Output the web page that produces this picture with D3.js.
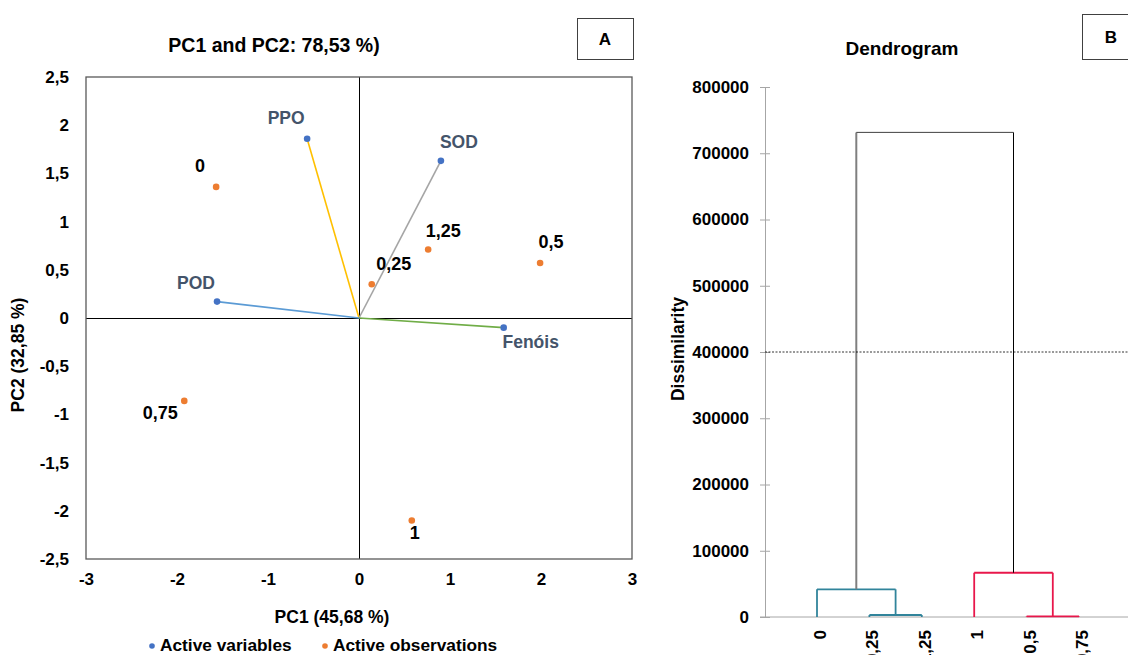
<!DOCTYPE html>
<html>
<head>
<meta charset="utf-8">
<script src="https://cdn.jsdelivr.net/npm/d3@7"></script>
<style>
  body { margin: 0; background: #fff; }
  text { font-family: "Liberation Sans", Arial, sans-serif; font-weight: bold; }
</style>
</head>
<body>
<div class="board"></div>
<script>
// PCA biplot data (panel A)
var varNames = ["PPO", "SOD", "POD", "Fenóis"]
var varPC1 = [-0.57, 0.90, -1.56, 1.59]
var varPC2 = [1.86, 1.63, 0.17, -0.10]

var obsNames = ["0", "0,25", "1,25", "0,5", "0,75", "1"]
var obsPC1 = [-1.57, 0.14, 0.76, 1.99, -1.92, 0.58]
var obsPC2 = [1.36, 0.35, 0.71, 0.57, -0.86, -2.10]

var pcTicksX = [-3, -2, -1, 0, 1, 2, 3]
var pcTicksY = [-2.5, -2, -1.5, -1, -0.5, 0, 0.5, 1, 1.5, 2, 2.5]

// Dendrogram data (panel B)
var leaves = ["0", "0,25", "1,25", "1", "0,5", "0,75"]
// merges: left child, right child, height (children: leaf name or merge index "m#")
var mergeLeft = ["0,25", "0", "0,5", "1", "m1"]
var mergeRight = ["1,25", "m0", "0,75", "m2", "m3"]
var mergeHeight = [3000, 41800, 800, 66800, 731500]
var dissTicks = [0, 100000, 200000, 300000, 400000, 500000, 600000, 700000, 800000]
var truncation = 400000

// styles
VAR_LINE_COLORS = ["#FFC000", "#A5A5A5", "#5B9BD5", "#70AD47"]
VAR_DOT = "#4472C4"
OBS_DOT = "#ED7D31"
VAR_LABEL = "#44546A"
BLUE_CLUSTER = "#31849B"
RED_CLUSTER = "#E8174B"
// label offsets relative to points (layout only)
var varLabelOff = [[-21, -15], [18, -13], [-21, -13], [27, 20]]
var obsLabelOff = [[-16, -15], [22, -14], [15, -13], [11, -15], [-24, 18], [3, 19]]

var W = 1128, H = 655
var svg = d3.select(".board").append("svg")
    .attr("width", W)
    .attr("height", H)

// ---------- Panel A ----------
var x = d3.scaleLinear().domain([-3, 3]).range([86, 632])
var y = d3.scaleLinear().domain([-2.5, 2.5]).range([559, 77])
var fmt = d => String(d).replace(".", ",")

svg.append("text")
    .attr("x", 274).attr("y", 52)
    .attr("text-anchor", "middle")
    .style("font-size", "19.5px")
    .text("PC1 and PC2: 78,53 %)")

svg.append("rect")
    .attr("x", 577.5).attr("y", 18.5).attr("width", 56).attr("height", 41)
    .attr("fill", "none").attr("stroke", "#404040")
svg.append("text")
    .attr("x", 605).attr("y", 45).attr("text-anchor", "middle")
    .style("font-size", "17px").text("A")

svg.append("g")
    .attr("transform", `translate(0, ${y(-2.5) + 11})`)
    .call(d3.axisBottom(x).tickValues(pcTicksX).tickSize(0).tickFormat(fmt))
    .call(g => g.select(".domain").remove())
    .selectAll("text")
    .style("font-size", "17px").attr("fill", "#000")

svg.append("g")
    .attr("transform", `translate(${x(-3) - 14}, 0)`)
    .call(d3.axisLeft(y).tickValues(pcTicksY).tickSize(0).tickFormat(fmt))
    .call(g => g.select(".domain").remove())
    .selectAll("text")
    .style("font-size", "17px").attr("fill", "#000")

// zero lines
svg.append("line")
    .attr("x1", x(-3)).attr("x2", x(3)).attr("y1", y(0)).attr("y2", y(0))
    .attr("stroke", "#000").attr("stroke-width", 1)
    .attr("shape-rendering", "crispEdges")
svg.append("line")
    .attr("x1", x(0)).attr("x2", x(0)).attr("y1", y(2.5)).attr("y2", y(-2.5))
    .attr("stroke", "#000").attr("stroke-width", 1)
    .attr("shape-rendering", "crispEdges")

svg.append("rect")
    .attr("x", x(-3)).attr("y", y(2.5))
    .attr("width", x(3) - x(-3)).attr("height", y(-2.5) - y(2.5))
    .attr("fill", "none").attr("stroke", "#595959").attr("stroke-width", 1.3)

svg.selectAll(".varLine")
    .data(varNames)
    .enter()
    .append("line")
    .classed("varLine", true)
    .attr("x1", x(0)).attr("y1", y(0))
    .attr("x2", (d, i) => x(varPC1[i]))
    .attr("y2", (d, i) => y(varPC2[i]))
    .attr("stroke", (d, i) => VAR_LINE_COLORS[i])
    .attr("stroke-width", 1.6)

svg.selectAll(".varDot")
    .data(varNames)
    .enter()
    .append("circle")
    .attr("cx", (d, i) => x(varPC1[i]))
    .attr("cy", (d, i) => y(varPC2[i]))
    .attr("r", 3.3)
    .attr("fill", VAR_DOT)

svg.selectAll(".varLabel")
    .data(varNames)
    .enter()
    .append("text")
    .attr("x", (d, i) => x(varPC1[i]) + varLabelOff[i][0])
    .attr("y", (d, i) => y(varPC2[i]) + varLabelOff[i][1])
    .attr("text-anchor", "middle")
    .attr("fill", VAR_LABEL)
    .style("font-size", "17.5px")
    .text(d => d)

svg.selectAll(".obsDot")
    .data(obsNames)
    .enter()
    .append("circle")
    .attr("cx", (d, i) => x(obsPC1[i]))
    .attr("cy", (d, i) => y(obsPC2[i]))
    .attr("r", 3.3)
    .attr("fill", OBS_DOT)

svg.selectAll(".obsLabel")
    .data(obsNames)
    .enter()
    .append("text")
    .attr("x", (d, i) => x(obsPC1[i]) + obsLabelOff[i][0])
    .attr("y", (d, i) => y(obsPC2[i]) + obsLabelOff[i][1])
    .attr("text-anchor", "middle")
    .attr("fill", "#000")
    .style("font-size", "18px")
    .text(d => d)

svg.append("text")
    .attr("x", 332).attr("y", 623)
    .attr("text-anchor", "middle")
    .style("font-size", "17.5px")
    .text("PC1 (45,68 %)")

svg.append("text")
    .attr("transform", "translate(24, 355) rotate(-90)")
    .attr("text-anchor", "middle")
    .style("font-size", "17.5px")
    .text("PC2 (32,85 %)")

var legendItems = [["Active variables", VAR_DOT, 152], ["Active observations", OBS_DOT, 325]]
legendItems.forEach(d => {
    svg.append("circle").attr("cx", d[2]).attr("cy", 646).attr("r", 2.8).attr("fill", d[1])
    svg.append("text").attr("x", d[2] + 8).attr("y", 651)
        .style("font-size", "17.3px").text(d[0])
})

// ---------- Panel B ----------
var lx = d3.scalePoint().domain(leaves).range([817, 1079])
var ly = d3.scaleLinear().domain([0, 800000]).range([617, 87])

svg.append("text")
    .attr("x", 902).attr("y", 55)
    .attr("text-anchor", "middle")
    .style("font-size", "19px")
    .text("Dendrogram")

svg.append("rect")
    .attr("x", 1082.5).attr("y", 14.5).attr("width", 60).attr("height", 45)
    .attr("fill", "none").attr("stroke", "#404040")
svg.append("text")
    .attr("x", 1111).attr("y", 43).attr("text-anchor", "middle")
    .style("font-size", "17px").text("B")

var yAxisB = svg.append("g")
    .attr("transform", "translate(765, 0)")
    .call(d3.axisLeft(ly).tickValues(dissTicks).tickSize(0).tickPadding(16).tickFormat(d3.format("d")))
yAxisB.select(".domain").attr("stroke", "#a6a6a6")
yAxisB.selectAll("text").style("font-size", "17px").attr("fill", "#000")
yAxisB.selectAll(".tick").append("line")
    .attr("x1", -5).attr("x2", 5).attr("stroke", "#a6a6a6")

svg.append("line")
    .attr("x1", 760).attr("x2", W).attr("y1", ly(0)).attr("y2", ly(0))
    .attr("stroke", "#a6a6a6")

svg.append("text")
    .attr("transform", "translate(684, 349) rotate(-90)")
    .attr("text-anchor", "middle")
    .style("font-size", "17.5px")
    .text("Dissimilarity")

// build the tree positions from merges
var nodeX = {}, nodeH = {}
leaves.forEach(l => { nodeX[l] = lx(l); nodeH[l] = 0 })
var clusterColor = {}
var leftSet = ["0", "0,25", "1,25"]
var segs = []
mergeHeight.forEach((h, i) => {
    var a = mergeLeft[i], b = mergeRight[i], id = "m" + i
    nodeX[id] = (nodeX[a] + nodeX[b]) / 2
    nodeH[id] = h
    var col
    if (i === mergeHeight.length - 1) col = null
    else col = leftSet.includes(a) || leftSet.includes(b) || clusterColor[a] === BLUE_CLUSTER || clusterColor[b] === BLUE_CLUSTER ? BLUE_CLUSTER : RED_CLUSTER
    clusterColor[id] = col
    segs.push({ x1: nodeX[a], y1: nodeH[a], x2: nodeX[a], y2: h, c: col || "#7f7f7f", w: col ? 1.8 : 2 })
    segs.push({ x1: nodeX[b], y1: nodeH[b], x2: nodeX[b], y2: h, c: col || "#000", w: col ? 1.8 : 1 })
    segs.push({ x1: nodeX[a], y1: h, x2: nodeX[b], y2: h, c: col || "#404040", w: col ? 1.8 : 1 })
})

svg.selectAll(".link")
    .data(segs)
    .enter()
    .append("line")
    .classed("link", true)
    .attr("x1", d => d.x1).attr("x2", d => d.x2)
    .attr("y1", d => ly(d.y1)).attr("y2", d => ly(d.y2))
    .attr("stroke", d => d.c)
    .attr("stroke-width", d => d.w)

svg.append("line")
    .attr("x1", 765).attr("x2", W).attr("y1", ly(truncation)).attr("y2", ly(truncation))
    .attr("stroke", "#000").attr("stroke-width", 0.8).attr("stroke-dasharray", "2,1.5")

// leaf labels run past the bottom edge, as in the reference
svg.selectAll(".leafLabel")
    .data(leaves)
    .enter()
    .append("text")
    .attr("transform", d => `translate(${lx(d) + 9}, 630) rotate(-90)`)
    .attr("text-anchor", "end")
    .style("font-size", "17px")
    .text(d => d)
</script>
</body>
</html>
